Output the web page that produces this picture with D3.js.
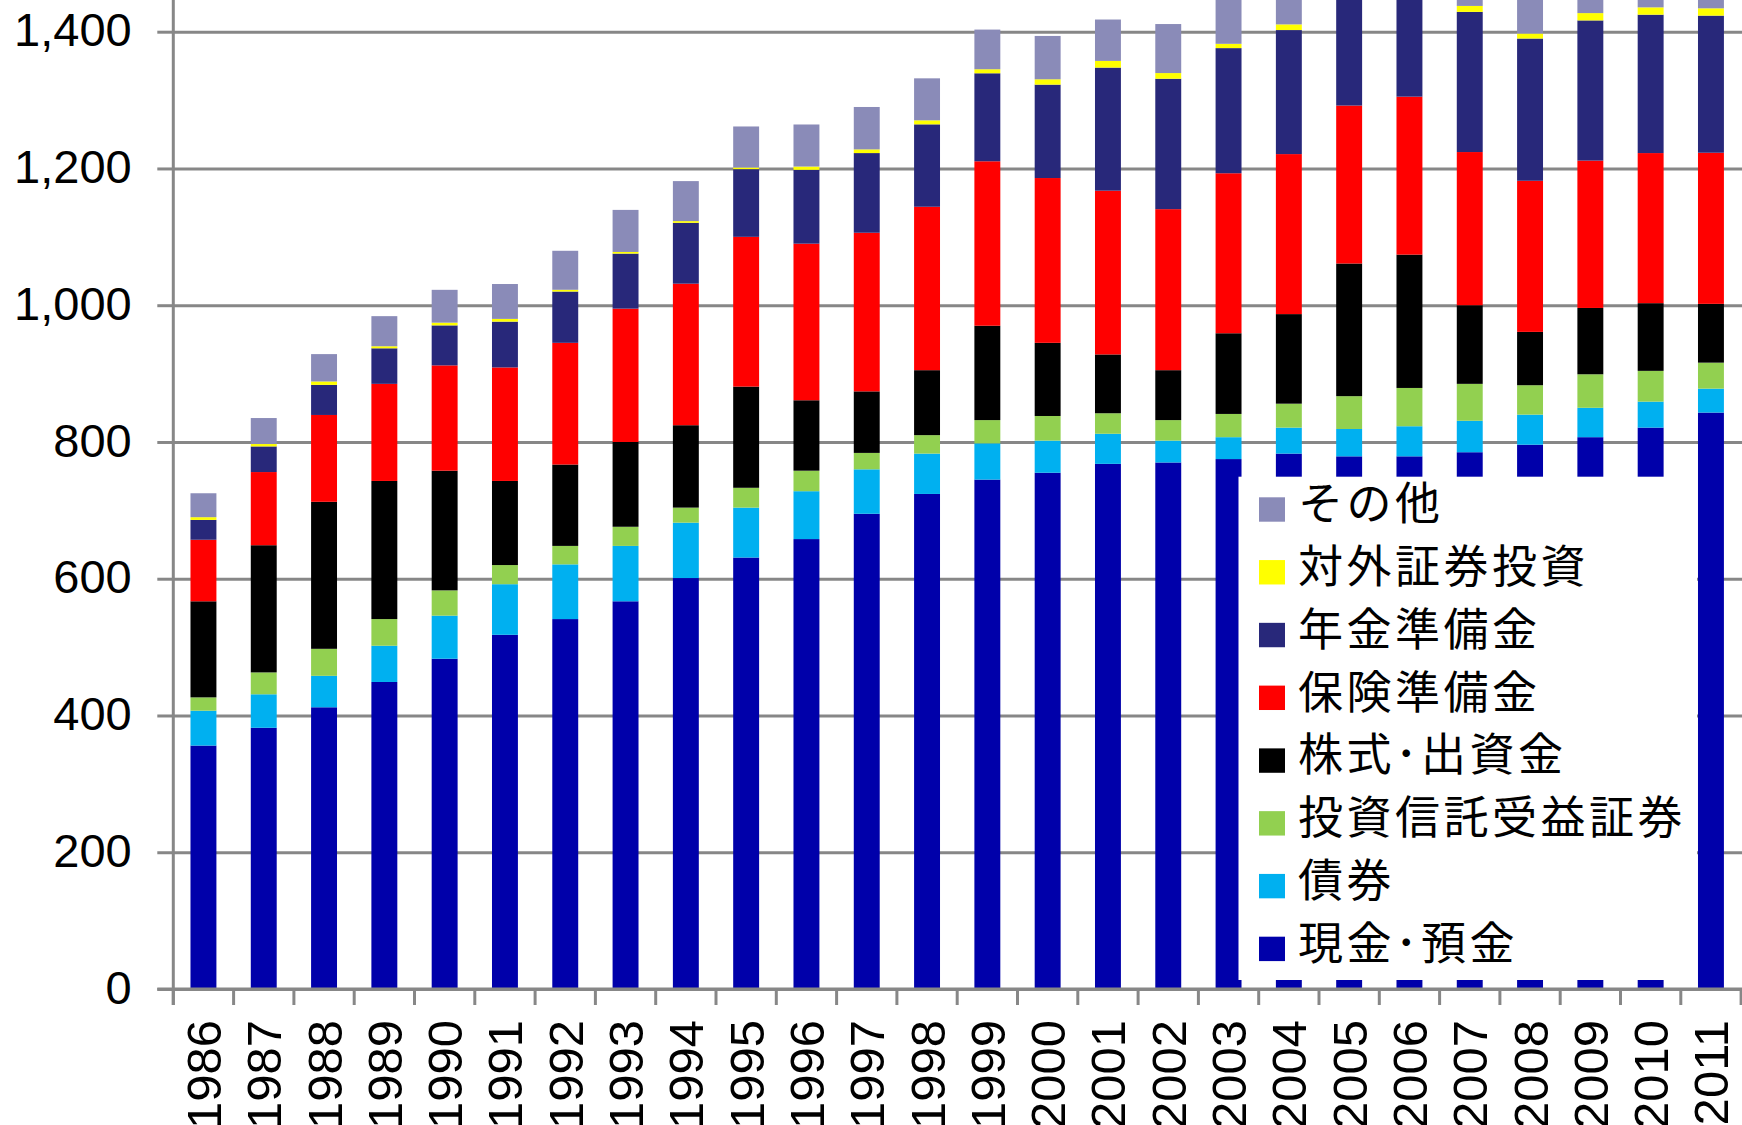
<!DOCTYPE html>
<html>
<head>
<meta charset="utf-8">
<script src="https://cdn.jsdelivr.net/npm/d3@7"></script>
<style>
  html, body { margin: 0; padding: 0; background: #fff; }
  svg { display: block; }
</style>
</head>
<body>
<script>
'use strict';

// household financial assets (trillion yen)
const years = [1986, 1987, 1988, 1989, 1990, 1991, 1992, 1993, 1994, 1995, 1996, 1997, 1998,
  1999, 2000, 2001, 2002, 2003, 2004, 2005, 2006, 2007, 2008, 2009, 2010, 2011];

const cash = [356, 382, 412, 449, 483, 518, 541, 567, 601, 631, 658, 695, 724,
  745, 755, 768, 770, 775, 783, 779, 779, 785, 796, 807, 821, 843];
const bonds = [51, 49, 46, 53, 63, 74, 80, 81, 81, 73, 70, 65, 59,
  53, 47, 44, 32, 32, 38, 40, 44, 46, 44, 43, 38, 35];
const trusts = [19.5, 32, 39.5, 39, 37, 28, 27, 28, 22, 29, 30, 24, 27,
  34, 36, 30, 30, 34, 35, 48, 56, 54, 43, 49, 45, 38];
const stocks = [140.5, 186, 215, 202, 175, 123, 119, 124, 120.5, 148, 103, 90, 95,
  138, 107, 86, 73, 118, 131, 194, 195, 115, 78, 97, 99, 86];
const insurance = [90, 107, 127, 142, 154, 166, 178, 195, 207, 219, 229, 232, 239,
  240.5, 241, 239.5, 235.5, 234, 234, 231, 231, 224, 221, 215.5, 219.5, 221];
const pension = [29, 37.5, 44, 52, 58.5, 67, 75, 80.5, 89, 99, 108, 116.5, 120.5,
  128.7, 136.6, 180, 190.7, 183, 181.4, 185, 180, 205, 208, 205, 202.4, 200.5];
const foreign = [4, 3.5, 5, 3, 4, 4, 2.6, 2.4, 2.5, 2.4, 4.8, 5.4, 5.9,
  5.9, 7.8, 9.8, 8.3, 6.3, 8.3, 9, 9, 8.7, 7.3, 10.7, 10.7, 10.7];
const other = [35, 38, 40, 44, 48, 51, 57, 61.5, 58.5, 60, 61.5, 62, 61.4,
  58, 63.4, 60.5, 71.7, 72, 72, 45, 45, 60, 62, 60, 60, 60];

const keys = ['cash', 'bonds', 'trusts', 'stocks', 'insurance', 'pension', 'foreign', 'other'];
const labels = ['現金･預金', '債券', '投資信託受益証券', '株式･出資金',
  '保険準備金', '年金準備金', '対外証券投資', 'その他'];
const colors = ['#0000aa', '#00b0f0', '#92d050', '#000000',
  '#ff0000', '#28287a', '#ffff00', '#8a8bb8'];
const yTicks = [0, 200, 400, 600, 800, 1000, 1200, 1400];

const W = 1742, H = 1125;
const axisColor = '#878787';

const table = years.map((yr, i) => ({
  year: yr, cash: cash[i], bonds: bonds[i], trusts: trusts[i], stocks: stocks[i],
  insurance: insurance[i], pension: pension[i], foreign: foreign[i], other: other[i]
}));

const svg = d3.select('body').append('svg')
  .attr('width', W).attr('height', H)
  .attr('viewBox', `0 0 ${W} ${H}`);

svg.append('rect').attr('width', W).attr('height', H).attr('fill', '#fff');

const x = d3.scaleBand()
  .domain(years)
  .range([173.3, 1741.1])
  .paddingInner(0.57)
  .paddingOuter(0.285);

const y = d3.scaleLinear()
  .domain([0, 1400])
  .range([989, 31.7]);

const color = d3.scaleOrdinal().domain(keys).range(colors);

// gridlines
svg.append('g')
  .attr('transform', 'translate(173.3,0)')
  .call(d3.axisLeft(y).tickValues(yTicks).tickSize(-(W - 173.3)).tickFormat(''))
  .call(g => g.select('.domain').remove())
  .call(g => g.selectAll('line').attr('stroke', axisColor).attr('stroke-width', 3));

// stacked bars
const series = d3.stack().keys(keys)(table);
svg.append('g')
  .selectAll('g')
  .data(series)
  .join('g')
    .attr('fill', d => color(d.key))
  .selectAll('rect')
  .data(d => d)
  .join('rect')
    .attr('x', d => x(d.data.year))
    .attr('y', d => y(d[1]))
    .attr('width', x.bandwidth())
    .attr('height', d => y(d[0]) - y(d[1]));

// legend
const legend = svg.append('g');
legend.append('rect')
  .attr('x', 1238.5).attr('y', 476.7)
  .attr('width', 1697 - 1238.5).attr('height', 980 - 476.7)
  .attr('fill', '#fff');

const rowH = 62.77;
const items = keys.map((k, i) => ({ key: k, label: labels[i] })).reverse();
const row = legend.selectAll('g.item')
  .data(items)
  .join('g')
    .attr('class', 'item')
    .attr('transform', (d, i) => `translate(1259, ${497.3 + i * rowH})`);
row.append('rect')
  .attr('width', 26).attr('height', 24.4)
  .attr('fill', d => color(d.key));
row.append('text')
  .attr('x', 39).attr('y', 23)
  .attr('font-family', '"Noto Sans CJK JP", sans-serif')
  .attr('font-size', 45)
  .attr('letter-spacing', 3.5)
  .attr('fill', '#000')
  .text(d => d.label);

// y axis
svg.append('g')
  .attr('transform', 'translate(173.3,0)')
  .call(d3.axisLeft(y).tickValues(yTicks).tickSize(16).tickPadding(25.6)
    .tickFormat(d3.format(',')))
  .call(g => g.select('.domain').remove())
  .call(g => g.selectAll('line').attr('stroke', axisColor).attr('stroke-width', 3))
  .call(g => g.selectAll('text')
    .attr('font-family', '"Liberation Sans", Arial, sans-serif')
    .attr('font-size', 47)
    .attr('dy', '0.3em')
    .attr('fill', '#000'));

svg.append('line')
  .attr('x1', 173.3).attr('x2', 173.3)
  .attr('y1', 0).attr('y2', 1005)
  .attr('stroke', axisColor).attr('stroke-width', 3);

// x axis: category boundary ticks and rotated year labels
const xAxis = svg.append('g').attr('transform', 'translate(0,989)');
xAxis.append('line')
  .attr('x1', 157.3).attr('x2', W)
  .attr('stroke', axisColor).attr('stroke-width', 3);

const bounds = years.map(yr => x(yr) - (x.step() - x.bandwidth()) / 2)
  .concat([x(years[years.length - 1]) + x.bandwidth() + (x.step() - x.bandwidth()) / 2]);
xAxis.selectAll('line.tick')
  .data(bounds)
  .join('line')
    .attr('class', 'tick')
    .attr('x1', d => d).attr('x2', d => d)
    .attr('y1', 0).attr('y2', 16)
    .attr('stroke', axisColor).attr('stroke-width', 3);

xAxis.append('g')
  .call(d3.axisBottom(x).tickSize(0).tickFormat(d3.format('d')))
  .call(g => g.select('.domain').remove())
  .call(g => g.selectAll('text')
    .attr('font-family', '"Liberation Sans", Arial, sans-serif')
    .attr('font-size', 49)
    .attr('fill', '#000')
    .attr('text-anchor', 'end')
    .attr('x', null).attr('y', null).attr('dy', null)
    .attr('transform', 'translate(17.5,31) rotate(-90)'));
</script>
</body>
</html>
